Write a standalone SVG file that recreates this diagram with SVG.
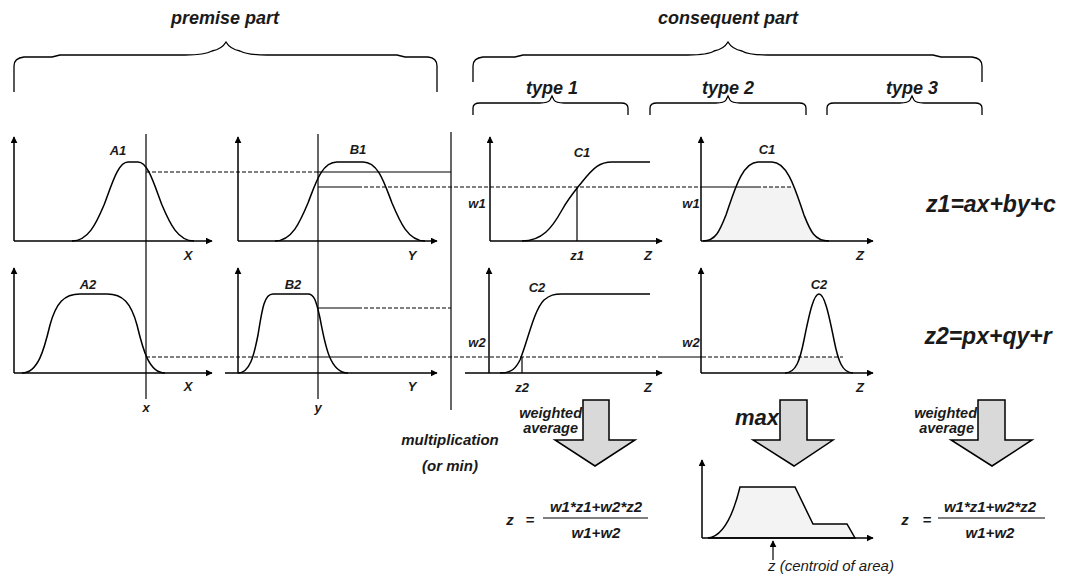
<svg xmlns="http://www.w3.org/2000/svg" width="1084" height="577" viewBox="0 0 1084 577">
<style>
text{font-family:"Liberation Sans",Arial,sans-serif;font-style:italic;font-weight:bold;fill:#1a1a1a}
.title{font-size:18px}
.lbl{font-size:13px}
.big{font-size:23px}
.mid{font-size:14.5px}
.frac{font-size:15px}
.ax{fill:none;stroke:#000;stroke-width:1.5}
.cv{fill:none;stroke:#000;stroke-width:1.5}
.sh{fill:#f3f3f3;stroke:none}
.br{fill:none;stroke:#000;stroke-width:1.3}
.ln{fill:none;stroke:#000;stroke-width:1.2}
.ds{fill:none;stroke:#000;stroke-width:1.2;stroke-dasharray:4 2}
.blk{fill:#d9d9d9;stroke:#000;stroke-width:1.5}
</style>
<defs>
<marker id="ah" viewBox="0 0 10 10" refX="9" refY="5" markerWidth="7" markerHeight="7" markerUnits="userSpaceOnUse" orient="auto">
<path d="M0,0 L10,5 L0,10 z" fill="#000"/>
</marker>
<clipPath id="cw1"><rect x="700" y="187" width="140" height="54"/></clipPath>
<clipPath id="cw2"><rect x="780" y="357" width="80" height="16"/></clipPath>
</defs>
<rect width="1084" height="577" fill="#fff"/>

<g id="headers">
<text class="title" x="225" y="24" text-anchor="middle">premise part</text>
<path class="br" d="M14,92 V66 Q14,58 24,57 L52,57 L60,55 H185 Q205,55 212,51 Q222,49 226,42 Q230,49 240,51 Q247,55 267,55 H397 L405,57 H428 Q437,58 437,66 V92"/>
<text class="title" x="728" y="24" text-anchor="middle">consequent part</text>
<path class="br" d="M473,82 V66 Q473,58 483,57 L515,57 L523,55 H688 Q708,55 714,51 Q724,49 728,42 Q732,49 742,51 Q748,55 768,55 H933 L941,57 H972 Q982,58 982,66 V82"/>
<text class="title" x="552" y="94" text-anchor="middle">type 1</text>
<path class="br" d="M473,115 V108 Q473,103 480,103 H540 Q548,103 550,100 Q551,98 552,96 Q553,98 554,100 Q556,103 564,103 H621 Q628,103 628,108 V115"/>
<text class="title" x="728" y="94" text-anchor="middle">type 2</text>
<path class="br" d="M650,115 V108 Q650,103 657,103 H716 Q724,103 726,100 Q727,98 728,96 Q729,98 730,100 Q732,103 740,103 H799 Q806,103 806,108 V115"/>
<text class="title" x="912" y="94" text-anchor="middle">type 3</text>
<path class="br" d="M827,115 V108 Q827,103 834,103 H900 Q908,103 910,100 Q911,98 912,96 Q913,98 914,100 Q916,103 924,103 H975 Q982,103 982,108 V115"/>
</g>

<g id="chartA1">
<path class="ax" d="M14,241 V137" marker-end="url(#ah)"/>
<path class="ax" d="M14,241 H212" marker-end="url(#ah)"/>
<path class="cv" d="M72,241 C88,241 96,224 104,205 C112,184 118,162 128,162 H138 C148,162 154,184 162,205 C170,224 178,241 194,241"/>
<text class="lbl" x="118" y="155" text-anchor="middle">A1</text>
<text class="lbl" x="188" y="260" text-anchor="middle">X</text>
</g>

<g id="chartB1">
<path class="ax" d="M238,241 V137" marker-end="url(#ah)"/>
<path class="ax" d="M238,241 H437" marker-end="url(#ah)"/>
<path class="cv" d="M275,241 C292,241 300,222 308,203 C316,182 322,162 337,162 H363 C378,162 384,182 392,203 C400,222 408,241 425,241"/>
<text class="lbl" x="358" y="154" text-anchor="middle">B1</text>
<text class="lbl" x="412" y="260" text-anchor="middle">Y</text>
</g>

<g id="chartA2">
<path class="ax" d="M14,373 V268" marker-end="url(#ah)"/>
<path class="ax" d="M14,373 H212" marker-end="url(#ah)"/>
<path class="cv" d="M22,373 C38,373 44,350 50,325 C56,303 64,294 80,294 H107 C123,294 131,303 137,325 C143,350 149,373 165,373"/>
<text class="lbl" x="88" y="289" text-anchor="middle">A2</text>
<text class="lbl" x="188" y="391" text-anchor="middle">X</text>
</g>

<g id="chartB2">
<path class="ax" d="M238,373 V268" marker-end="url(#ah)"/>
<path class="ax" d="M225,373 H437" marker-end="url(#ah)"/>
<path class="cv" d="M238,373 C250,373 254,355 258,335 C262,310 264,294 273,294 H308 C314,294 316,300 320,318 C325,345 330,373 348,373"/>
<text class="lbl" x="293" y="289" text-anchor="middle">B2</text>
<text class="lbl" x="412" y="391" text-anchor="middle">Y</text>
</g>

<g id="chartT1a">
<path class="ax" d="M490,241 V137" marker-end="url(#ah)"/>
<path class="ax" d="M490,241 H662" marker-end="url(#ah)"/>
<path class="cv" d="M522,241 C542,241 552,228 562,210 C568,199 574,192 582,182 C594,167 600,162 612,162 H650"/>
<text class="lbl" x="582" y="157" text-anchor="middle">C1</text>
<text class="lbl" x="477" y="208" text-anchor="middle">w1</text>
<text class="lbl" x="577" y="260" text-anchor="middle">z1</text>
<text class="lbl" x="648" y="260" text-anchor="middle">Z</text>
</g>

<g id="chartT1b">
<path class="ax" d="M489,373 V268" marker-end="url(#ah)"/>
<path class="ax" d="M465,373 H662" marker-end="url(#ah)"/>
<path class="cv" d="M500,373 C512,373 516,368 520,360 C528,340 534,310 544,300 C550,295 554,294 562,294 H650"/>
<text class="lbl" x="537" y="292" text-anchor="middle">C2</text>
<text class="lbl" x="477" y="347" text-anchor="middle">w2</text>
<text class="lbl" x="522" y="392" text-anchor="middle">z2</text>
<text class="lbl" x="648" y="392" text-anchor="middle">Z</text>
</g>

<g id="chartT2a">
<path class="sh" clip-path="url(#cw1)" d="M703,241 C716,241 720,230 726,215 C734,192 742,162 758,162 H772 C788,162 796,192 804,215 C810,230 814,241 829,241 Z"/>
<path class="ax" d="M701,241 V137" marker-end="url(#ah)"/>
<path class="ax" d="M701,241 H873" marker-end="url(#ah)"/>
<path class="cv" d="M703,241 C716,241 720,230 726,215 C734,192 742,162 758,162 H772 C788,162 796,192 804,215 C810,230 814,241 829,241"/>
<text class="lbl" x="767" y="154" text-anchor="middle">C1</text>
<text class="lbl" x="691" y="208" text-anchor="middle">w1</text>
<text class="lbl" x="860" y="260" text-anchor="middle">Z</text>
</g>

<g id="chartT2b">
<path class="sh" clip-path="url(#cw2)" d="M785,373 C796,373 800,360 804,340 C810,310 814,294 819,294 C824,294 828,310 834,340 C838,360 842,373 853,373 Z"/>
<path class="ax" d="M701,373 V268" marker-end="url(#ah)"/>
<path class="ax" d="M701,373 H873" marker-end="url(#ah)"/>
<path class="cv" d="M785,373 C796,373 800,360 804,340 C810,310 814,294 819,294 C824,294 828,310 834,340 C838,360 842,373 853,373"/>
<text class="lbl" x="819" y="289" text-anchor="middle">C2</text>
<text class="lbl" x="691" y="347" text-anchor="middle">w2</text>
<text class="lbl" x="860" y="392" text-anchor="middle">Z</text>
</g>

<g id="type3">
<text class="big" x="991" y="212" text-anchor="middle">z1=ax+by+c</text>
<text class="big" x="988" y="344" text-anchor="middle">z2=px+qy+r</text>
</g>

<g id="connectors">
<path class="ln" d="M146,134 V399"/>
<path class="ln" d="M318,134 V399"/>
<path class="ln" d="M451,132 V410"/>
<text class="lbl" x="146" y="412" text-anchor="middle">x</text>
<text class="lbl" x="318" y="412" text-anchor="middle">y</text>
<path class="ds" d="M146,172 H318"/>
<path class="ln" d="M318,172 H451"/>
<path class="ln" d="M318,187 H358"/>
<path class="ds" d="M358,187 H701"/>
<path class="ln" d="M701,187 H757"/>
<path class="ds" d="M757,187 H792"/>
<path class="ln" d="M577,187 V241"/>
<path class="ln" d="M318,308 H358"/>
<path class="ds" d="M358,308 H451"/>
<path class="ds" d="M146,357 H308"/>
<path class="ln" d="M308,357 H358"/>
<path class="ds" d="M358,357 H658"/>
<path class="ln" d="M658,357 H702"/>
<path class="ds" d="M702,357 H843"/>
<path class="ln" d="M522,357 V373"/>
</g>

<g id="multiplication">
<text class="frac" x="450" y="445" text-anchor="middle">multiplication</text>
<text class="frac" x="450" y="471" text-anchor="middle">(or min)</text>
</g>

<g id="arrow1">
<path class="blk" d="M583,400 H609 V440 H635 L595,466 L555,440 H583 Z"/>
<text class="mid" x="582" y="418" text-anchor="end">weighted</text>
<text class="mid" x="578" y="433" text-anchor="end">average</text>
</g>

<g id="arrow2">
<path class="blk" d="M780,400 H807 V440 H833 L794,466 L753,440 H780 Z"/>
<text x="779" y="425" text-anchor="end" style="font-size:22px">max</text>
</g>

<g id="arrow3">
<path class="blk" d="M978,400 H1005 V440 H1032 L992,466 L951,440 H978 Z"/>
<text class="mid" x="977" y="418" text-anchor="end">weighted</text>
<text class="mid" x="974" y="433" text-anchor="end">average</text>
</g>

<g id="formula1">
<text class="frac" x="510" y="525" text-anchor="middle">z</text>
<text class="frac" x="530" y="525" text-anchor="middle">=</text>
<path class="ln" d="M543,518 H648"/>
<text class="frac" x="596" y="512" text-anchor="middle">w1*z1+w2*z2</text>
<text class="frac" x="596" y="538" text-anchor="middle">w1+w2</text>
</g>

<g id="result2">
<path d="M708,538 Q728,536 740,487 H795 L813,524 H847 L855,538 Z" fill="#f3f3f3" stroke="#000" stroke-width="1.5"/>
<path class="ax" d="M702,538 V460" marker-end="url(#ah)"/>
<path class="ax" d="M702,538 H873" marker-end="url(#ah)"/>
<path class="ln" d="M773,560 V541" marker-end="url(#ah)"/>
<text x="768" y="571" style="font-size:15px;font-weight:normal">z (centroid of area)</text>
</g>

<g id="formula3">
<text class="frac" x="905" y="525" text-anchor="middle">z</text>
<text class="frac" x="927" y="525" text-anchor="middle">=</text>
<path class="ln" d="M938,518 H1045"/>
<text class="frac" x="990" y="512" text-anchor="middle">w1*z1+w2*z2</text>
<text class="frac" x="990" y="538" text-anchor="middle">w1+w2</text>
</g>
</svg>
